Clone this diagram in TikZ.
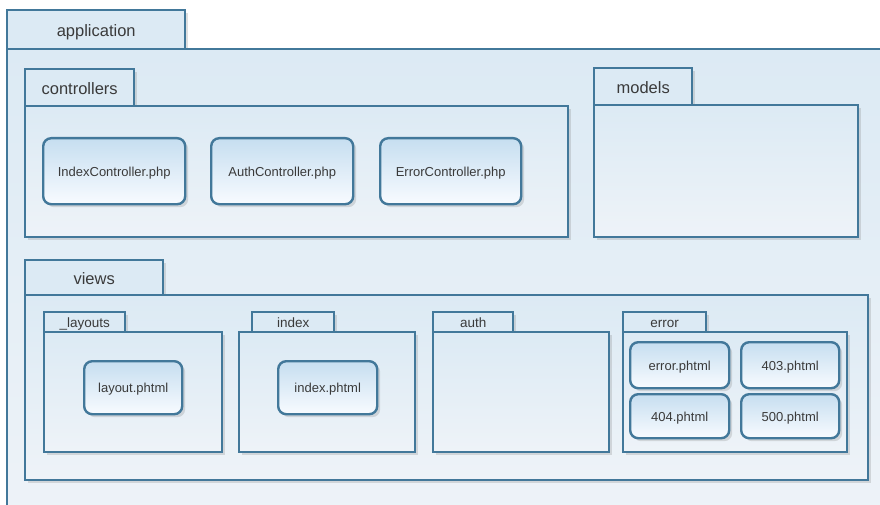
\documentclass[tikz,border=0pt]{standalone}
\usepackage{fontspec}
\setmainfont{Liberation Sans}
\usepackage{tikz}
\usetikzlibrary{shadows}
\definecolor{pkgline}{HTML}{42789A}
\definecolor{pkgtop}{HTML}{DCEAF4}
\definecolor{pkgbot}{HTML}{EEF3F8}
\definecolor{filetop}{HTML}{C6DEF0}
\definecolor{filebot}{HTML}{F8FBFF}
\definecolor{labeltext}{HTML}{3A3A3A}
\tikzset{
  pkgbase/.style={draw=pkgline, line width=2.4pt, anchor=north west, inner sep=0pt,
    text=labeltext, drop shadow={opacity=0.25, shadow xshift=3pt, shadow yshift=-3pt}},
  pkgtab/.style={pkgbase, fill=pkgtop, font=\fontsize{16.5}{18}\selectfont,
    text height=16pt, text depth=2pt},
  subtab/.style={pkgbase, fill=pkgtop, font=\fontsize{13.5}{15}\selectfont,
    text height=13.5pt, text depth=2pt},
  pkgbody/.style={pkgbase, top color=pkgtop, bottom color=pkgbot},
  phpfile/.style={pkgbase, rounded corners=8pt, top color=filetop, bottom color=filebot,
    font=\fontsize{13}{15}\selectfont, text height=13pt, text depth=2.5pt}
}
\begin{document}
\begin{tikzpicture}[x=1pt,y=-1pt]
\useasboundingbox (0,0) rectangle (880,505);
\clip (0,0) rectangle (880,505);
\node[pkgtab, minimum width=178, minimum height=39] (app-tab) at (6,9) {application};
\node[pkgbody, minimum width=890, minimum height=480] (app) at (6,48) {};
\node[pkgtab, minimum width=109, minimum height=37] (ctrl-tab) at (24,68) {controllers};
\node[pkgbody, minimum width=543, minimum height=131] (ctrl) at (24,105) {};
\node[phpfile, minimum width=142, minimum height=66] (idx-ctrl) at (42,137) {IndexController.php};
\node[phpfile, minimum width=142, minimum height=66] (auth-ctrl) at (210,137) {AuthController.php};
\node[phpfile, minimum width=141, minimum height=66] (err-ctrl) at (379,137) {ErrorController.php};
\node[pkgtab, minimum width=98, minimum height=37] (mdl-tab) at (593,67) {models};
\node[pkgbody, minimum width=264, minimum height=132] (mdl) at (593,104) {};
\node[pkgtab, minimum width=138, minimum height=35] (views-tab) at (24,259) {views};
\node[pkgbody, minimum width=843, minimum height=185] (views) at (24,294) {};
\node[subtab, minimum width=81, minimum height=20] (lay-tab) at (43,311) {\_layouts};
\node[pkgbody, minimum width=178, minimum height=120] (lay) at (43,331) {};
\node[phpfile, minimum width=98, minimum height=53] (lay-file) at (83,360) {layout.phtml};
\node[subtab, minimum width=82, minimum height=20] (idx-tab) at (251,311) {index};
\node[pkgbody, minimum width=176, minimum height=120] (idx) at (238,331) {};
\node[phpfile, minimum width=99, minimum height=53] (idx-file) at (277,360) {index.phtml};
\node[subtab, minimum width=80, minimum height=20] (auth-tab) at (432,311) {auth};
\node[pkgbody, minimum width=176, minimum height=120] (auth) at (432,331) {};
\node[subtab, minimum width=83, minimum height=20] (err-tab) at (622,311) {error};
\node[pkgbody, minimum width=224, minimum height=120] (err) at (622,331) {};
\node[phpfile, minimum width=99, minimum height=46] (err-file) at (629,341) {error.phtml};
\node[phpfile, minimum width=98, minimum height=46] (f403) at (740,341) {403.phtml};
\node[phpfile, minimum width=99, minimum height=44] (f404) at (629,393) {404.phtml};
\node[phpfile, minimum width=98, minimum height=44] (f500) at (740,393) {500.phtml};
\end{tikzpicture}
\end{document}
